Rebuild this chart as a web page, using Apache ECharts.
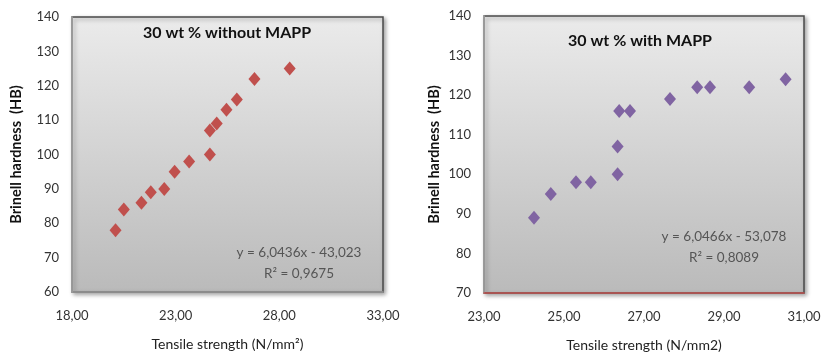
<!DOCTYPE html>
<html>
<head>
<meta charset="utf-8">
<script src="https://cdn.jsdelivr.net/npm/echarts@6/dist/echarts.min.js"></script>
<style>
  html, body { margin: 0; padding: 0; background: #fff; }
  #chart { width: 821px; height: 354px; }
</style>
</head>
<body>
<div id="chart"></div>
<script>
// left panel: 30 wt % without MAPP
const leftTensile = [20.1, 20.5, 21.35, 21.8, 22.45, 22.95, 23.65, 24.65, 24.65, 24.98, 25.45, 25.95, 26.8, 28.5];
const leftHardness = [78, 84, 86, 89, 90, 95, 98, 100, 107, 109, 113, 116, 122, 125];
// right panel: 30 wt % with MAPP
const rightTensile = [24.25, 24.67, 25.3, 25.67, 26.34, 26.34, 26.38, 26.65, 27.65, 28.33, 28.65, 29.63, 30.54];
const rightHardness = [89, 95, 98, 98, 100, 107, 116, 116, 119, 122, 122, 122, 124];

const leftTitle = "30 wt % without MAPP";
const rightTitle = "30 wt % with MAPP";
const leftEq = ["y = 6,0436x - 43,023", "R² = 0,9675"];
const rightEq = ["y = 6,0466x - 53,078", "R² = 0,8089"];

const FONT = "Lato, 'Open Sans', sans-serif";
const toComma = (v) => v.toFixed(2).replace(".", ",");

const plotBg = new echarts.graphic.LinearGradient(0, 0, 0, 1, [
  { offset: 0, color: "#ebebeb" },
  { offset: 1, color: "#bababa" },
]);

const makeGrid = (pos) => ({
  ...pos,
  outerBoundsMode: "none",
  containLabel: false,
  show: true,
  backgroundColor: plotBg,
  borderColor: "#4a4a4a",
  borderWidth: 1.5,
  shadowColor: "rgba(0,0,0,0.35)",
  shadowBlur: 4,
  shadowOffsetX: 2,
  shadowOffsetY: 2,
});

const makeX = (gridIndex, min, max, interval, name, bottomColor) => ({
  type: "value",
  gridIndex,
  min,
  max,
  interval,
  name,
  nameLocation: "middle",
  nameGap: 45,
  nameTextStyle: { fontFamily: FONT, fontSize: 14, color: "#222" },
  axisLine: { show: true, onZero: false, lineStyle: { color: bottomColor, width: 1.5 } },
  axisTick: { show: false },
  splitLine: { show: false },
  axisLabel: { fontFamily: FONT, fontSize: 13, color: "#333", margin: 17, formatter: toComma },
});

const makeY = (gridIndex, min, max, nameGap) => ({
  type: "value",
  gridIndex,
  min,
  max,
  interval: 10,
  name: "Brinell hardness  (HB)",
  nameLocation: "middle",
  nameGap,
  nameTextStyle: { fontFamily: FONT, fontSize: 14.5, fontWeight: "bold", color: "#111" },
  axisLine: { show: true, onZero: false, lineStyle: { color: "#a8a8a8", width: 1.5 } },
  axisTick: { show: false },
  splitLine: { show: false },
  axisLabel: { fontFamily: FONT, fontSize: 13, color: "#333", margin: 13 },
});

const eqText = (left, top, lines) => ({
  text: lines.join("\n"),
  left,
  top,
  textAlign: "center",
  textStyle: { fontFamily: FONT, fontSize: 13.5, fontWeight: "normal", color: "#555", lineHeight: 21 },
});

const chart = echarts.init(document.getElementById("chart"), null, { renderer: "canvas" });
chart.setOption({
  animation: false,
  backgroundColor: "#fff",
  title: [
    { text: leftTitle, left: 222, top: 20, textAlign: "center",
      textStyle: { fontFamily: FONT, fontSize: 16, fontWeight: "bold", color: "#111" } },
    { text: rightTitle, left: 635, top: 28, textAlign: "center",
      textStyle: { fontFamily: FONT, fontSize: 16, fontWeight: "bold", color: "#111" } },
    eqText(294, 237, leftEq),
    eqText(719, 221, rightEq),
  ],
  grid: [
    makeGrid({ left: 72, top: 17, width: 311, height: 275 }),
    makeGrid({ left: 484, top: 16, width: 320, height: 277 }),
  ],
  xAxis: [
    makeX(0, 18, 33, 5, "Tensile strength (N/mm²)", "#9a9a9a"),
    makeX(1, 23, 31, 2, "Tensile strength (N/mm2)", "#c0504d"),
  ],
  yAxis: [
    makeY(0, 60, 140, 48),
    makeY(1, 70, 140, 42),
  ],
  series: [
    {
      type: "scatter",
      xAxisIndex: 0,
      yAxisIndex: 0,
      symbol: "diamond",
      symbolSize: [12, 14],
      itemStyle: { color: "#c0504d", opacity: 1 },
      data: leftTensile.map((x, i) => [x, leftHardness[i]]),
    },
    {
      type: "scatter",
      xAxisIndex: 1,
      yAxisIndex: 1,
      symbol: "diamond",
      symbolSize: [12, 14],
      itemStyle: { color: "#8064a2", opacity: 1 },
      data: rightTensile.map((x, i) => [x, rightHardness[i]]),
    },
  ],
});
</script>
</body>
</html>
